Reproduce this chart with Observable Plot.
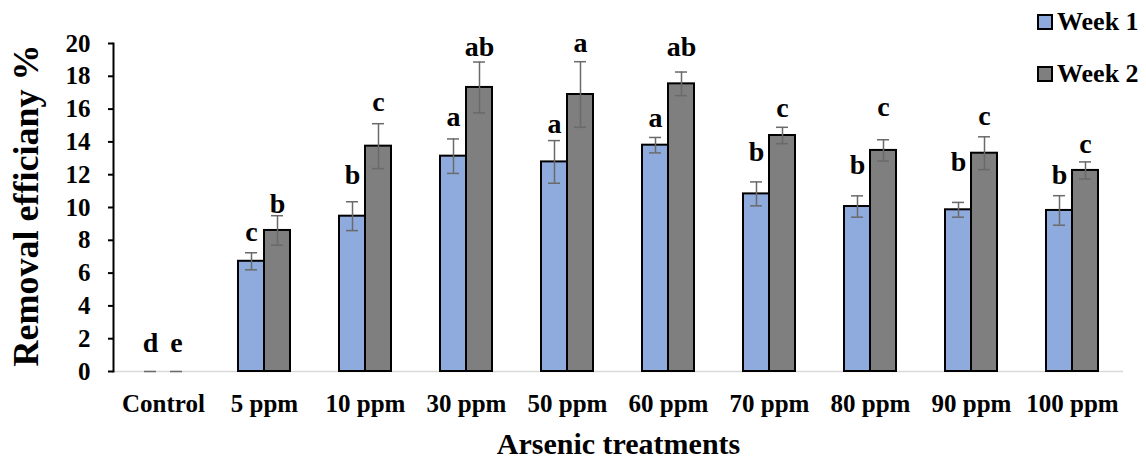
<!DOCTYPE html>
<html><head><meta charset="utf-8">
<style>
body{margin:0;background:#fff;}
#wrap{position:relative;width:1146px;height:459px;}
#wrap, #wrap *{font-family:'Liberation Serif', serif !important;}
.leg{position:absolute;left:1037px;display:flex;align-items:center;font-weight:bold;font-size:26px;color:#000;line-height:1;}
.sw{width:12px;height:12px;border:2px solid #000;margin-right:4px;}
</style>
<script src="https://cdn.jsdelivr.net/npm/d3@7"></script>
<script src="https://cdn.jsdelivr.net/npm/@observablehq/plot@0.6"></script>
</head>
<body><div id="wrap"></div>
<script>
const categories = ["Control","5 ppm","10 ppm","30 ppm","50 ppm","60 ppm","70 ppm","80 ppm","90 ppm","100 ppm"];
const seriesNames = ["Week 1","Week 2"];
const week1 = [0, 6.72, 9.47, 13.13, 12.78, 13.80, 10.83, 10.06, 9.86, 9.82];
const err1  = [0, 0.52, 0.88, 1.05, 1.30, 0.47, 0.73, 0.65, 0.45, 0.90];
const week2 = [0, 8.60, 13.74, 17.32, 16.89, 17.54, 14.39, 13.48, 13.31, 12.26];
const err2  = [0, 0.90, 1.37, 1.55, 2.00, 0.72, 0.50, 0.65, 1.00, 0.52];
const letters1 = ["d","c","b","a","a","a","b","b","b","b"];
const letters2 = ["e","b","c","ab","a","ab","c","c","c","c"];
const letterY1 = [1.71, 8.48, 11.95, 15.5, 15.12, 15.43, 13.37, 12.56, 12.76, 11.95];
const letterY2 = [1.71, 10.24, 16.42, 19.77, 20.0, 19.77, 16.04, 16.12, 15.6, 13.88];
const yTicks = [0,2,4,6,8,10,12,14,16,18,20];
const yTitle = "Removal efficiany %";
const xTitle = "Arsenic treatments";
const colors = ["#8faadc", "#7f7f7f"];

const rows = categories.map((c, i) => ({cat: c, w1: week1[i], e1: err1[i], w2: week2[i], e2: err2[i],
  t1: letters1[i], t2: letters2[i], l1: letterY1[i], l2: letterY2[i]}));
const nz = rows.filter(d => d.w1 > 0);
const font = "Liberation Serif";
const ebColor = "#6a6a6a";

const chart = Plot.plot({
  width: 1146, height: 459,
  marginTop: 43, marginBottom: 88, marginLeft: 113, marginRight: 23,
  style: {fontFamily: font, fontWeight: "bold", fontSize: "25px", color: "#000", background: "#fff"},
  x: {domain: categories, paddingInner: 0.485, paddingOuter: 0.2425, axis: null},
  y: {domain: [0, 20], axis: null},
  marks: [
    Plot.ruleY([0], {stroke: "#d9d9d9", strokeWidth: 1.5}),
    Plot.barY(nz, {x: "cat", y: "w1", insetRight: 26, fill: colors[0], stroke: "#000", strokeWidth: 2}),
    Plot.barY(nz, {x: "cat", y: "w2", insetLeft: 26, fill: colors[1], stroke: "#000", strokeWidth: 2}),
    Plot.ruleX(nz, {x: "cat", y1: d => d.w1 - d.e1, y2: d => d.w1 + d.e1, dx: -13, stroke: ebColor, strokeWidth: 1.5}),
    Plot.ruleX(nz, {x: "cat", y1: d => d.w2 - d.e2, y2: d => d.w2 + d.e2, dx: 13, stroke: ebColor, strokeWidth: 1.5}),
    Plot.tickY(rows, {x: "cat", y: d => d.w1 + d.e1, insetLeft: 7, insetRight: 33, stroke: ebColor, strokeWidth: 1.5}),
    Plot.tickY(nz, {x: "cat", y: d => d.w1 - d.e1, insetLeft: 7, insetRight: 33, stroke: ebColor, strokeWidth: 1.5}),
    Plot.tickY(rows, {x: "cat", y: d => d.w2 + d.e2, insetLeft: 33, insetRight: 7, stroke: ebColor, strokeWidth: 1.5}),
    Plot.tickY(nz, {x: "cat", y: d => d.w2 - d.e2, insetLeft: 33, insetRight: 7, stroke: ebColor, strokeWidth: 1.5}),
    Plot.text(rows, {x: "cat", y: "l1", text: "t1", dx: -13, fontSize: 28, fontWeight: "bold", fontFamily: font, fill: "#000"}),
    Plot.text(rows, {x: "cat", y: "l2", text: "t2", dx: 13, fontSize: 28, fontWeight: "bold", fontFamily: font, fill: "#000"}),
    Plot.frame({anchor: "left", stroke: "#000", strokeWidth: 2}),
    Plot.axisY({ticks: yTicks, tickSize: 5, tickPadding: 18, stroke: "#000", strokeWidth: 2, fontSize: 25, fontFamily: font, label: null}),
    Plot.axisX({tickSize: 0, tickPadding: 23, fontSize: 25, fontFamily: font, label: null}),
    Plot.text([yTitle], {frameAnchor: "left", textAnchor: "middle", rotate: -90, dx: -87.5, dy: -2, fontSize: 36, fontWeight: "bold", fontFamily: font, fill: "#000"}),
    Plot.text([xTitle], {frameAnchor: "bottom", textAnchor: "middle", lineAnchor: "bottom", dy: 82, fontSize: 30, fontWeight: "bold", fontFamily: font, fill: "#000"})
  ]
});
const wrap = document.getElementById("wrap");
wrap.appendChild(chart);
seriesNames.forEach((name, i) => {
  const div = document.createElement("div");
  div.className = "leg";
  div.style.top = (i === 0 ? 9 : 61) + "px";
  const sw = document.createElement("div");
  sw.className = "sw";
  sw.style.background = colors[i];
  div.appendChild(sw);
  div.appendChild(document.createTextNode(name));
  wrap.appendChild(div);
});
</script>
</body></html>
